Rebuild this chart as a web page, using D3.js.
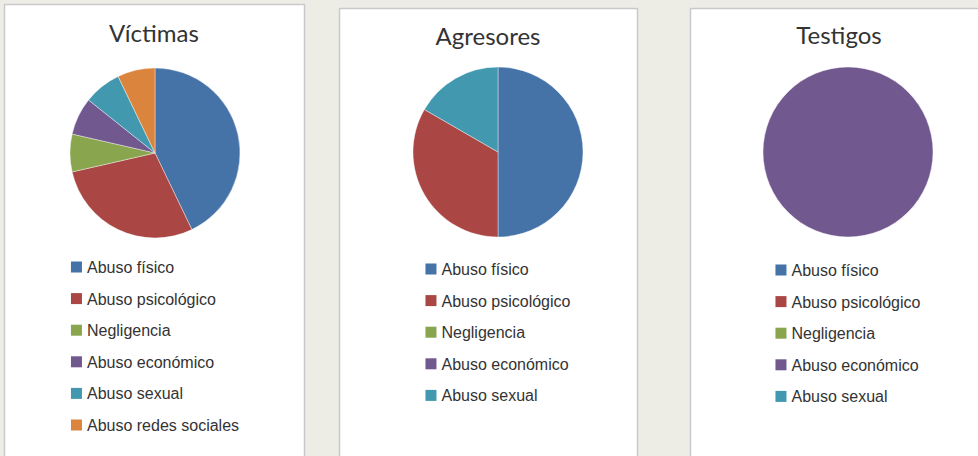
<!DOCTYPE html>
<html>
<head>
<meta charset="utf-8">
<script src="https://cdn.jsdelivr.net/npm/d3@7"></script>
<style>
  html, body { margin: 0; padding: 0; background: #eeede5; }
  svg { display: block; }
</style>
</head>
<body>
<div id="chart"></div>
<script>
// categories (legend order)
const categories = ["Abuso físico", "Abuso psicológico", "Negligencia", "Abuso económico", "Abuso sexual", "Abuso redes sociales"];
const colors = ["#4572A7", "#AA4643", "#89A54E", "#71588F", "#4198AF", "#DB843D"];

// one series per panel (counts)
const titles = ["Víctimas", "Agresores", "Testigos"];
const victimas = [12, 8, 2, 2, 2, 2];
const agresores = [3, 2, 0, 0, 1];
const testigos = [0, 0, 0, 1, 0];
const seriesValues = [victimas, agresores, testigos];

// panel layout
const panels = [
  { x: 4, y: 4, w: 300, cx: 155, cy: 153, titleY: 42, legendY: 267 },
  { x: 339, y: 8, w: 298, cx: 498, cy: 152, titleY: 45, legendY: 269 },
  { x: 690, y: 8, w: 298, cx: 848, cy: 152, titleY: 44, legendY: 270 }
];

const width = 978, height = 456;
const radius = 85;
const rowStep = 31.6;

const svg = d3.select("#chart").append("svg")
  .attr("width", width)
  .attr("height", height);

const color = d3.scaleOrdinal().domain(categories).range(colors);

const pie = d3.pie().sort(null).value(d => d.value);
const arc = d3.arc().innerRadius(0).outerRadius(radius);

panels.forEach((p, i) => {
  const g = svg.append("g");

  // panel box
  g.append("rect")
    .attr("x", p.x + 0.5)
    .attr("y", p.y + 0.5)
    .attr("width", p.w)
    .attr("height", height + 20)
    .attr("fill", "#fff")
    .attr("stroke", "#c9c9cd")
    .attr("stroke-width", 1.5);

  // title
  g.append("text")
    .attr("x", p.x + p.w / 2)
    .attr("y", p.titleY)
    .attr("text-anchor", "middle")
    .attr("font-family", "Lato, 'Open Sans', sans-serif")
    .attr("font-size", "24px")
    .attr("font-weight", 400)
    .attr("fill", "#333")
    .text(titles[i]);

  const vals = seriesValues[i];
  const data = vals.map((v, k) => ({ key: categories[k], value: v }));

  // pie
  g.append("g")
    .attr("transform", `translate(${p.cx},${p.cy})`)
    .selectAll("path")
    .data(pie(data).filter(d => d.value > 0))
    .enter().append("path")
    .attr("d", arc)
    .attr("fill", d => color(d.data.key))
    .attr("stroke", "#fff")
    .attr("stroke-width", 0.4);

  // legend
  const legend = g.append("g");
  const items = legend.selectAll(".legend")
    .data(data)
    .enter().append("g")
    .attr("class", "legend")
    .attr("transform", (d, k) => `translate(0,${p.legendY + k * rowStep})`);

  items.append("rect")
    .attr("x", 0)
    .attr("y", -5.5)
    .attr("width", 11)
    .attr("height", 11)
    .attr("fill", d => color(d.key));

  items.append("text")
    .attr("x", 16)
    .attr("y", 6)
    .attr("font-family", "'Liberation Sans', Arial, sans-serif")
    .attr("font-size", "16px")
    .attr("fill", "#333")
    .text(d => d.key);

  // centre legend block under the pie
  const bw = legend.node().getBBox().width;
  legend.attr("transform", `translate(${p.cx - bw / 2},0)`);
});
</script>
</body>
</html>
